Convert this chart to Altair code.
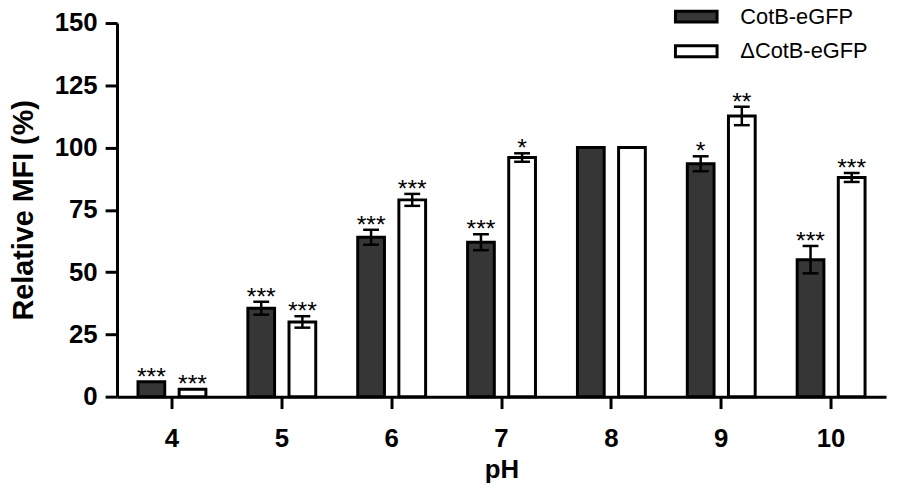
import altair as alt
import pandas as pd

ph = ["4", "5", "6", "7", "8", "9", "10"]
series_names = ["CotB-eGFP", "ΔCotB-eGFP"]
cotb_mean = [6, 35.5, 64, 62, 100, 93.5, 55]
cotb_err = [0, 2.6, 3.0, 3.2, 0, 3.0, 5.5]
cotb_sig = ["***", "***", "***", "***", "", "*", "***"]
dcotb_mean = [3, 30, 79, 96, 100, 112.7, 88]
dcotb_err = [0, 2.3, 2.4, 1.7, 0, 3.7, 1.8]
dcotb_sig = ["***", "***", "***", "*", "", "**", "***"]

rows = []
for i, p in enumerate(ph):
    rows.append(dict(pH=p, series=series_names[0], mean=cotb_mean[i],
                     lo=cotb_mean[i] - cotb_err[i], hi=cotb_mean[i] + cotb_err[i],
                     sig=cotb_sig[i], err=cotb_err[i]))
    rows.append(dict(pH=p, series=series_names[1], mean=dcotb_mean[i],
                     lo=dcotb_mean[i] - dcotb_err[i], hi=dcotb_mean[i] + dcotb_err[i],
                     sig=dcotb_sig[i], err=dcotb_err[i]))
df = pd.DataFrame(rows)

FONT = "Arial, Liberation Sans, sans-serif"

x_enc = alt.X("pH:N", sort=ph, title="pH",
              scale=alt.Scale(paddingInner=0, paddingOuter=0),
              axis=alt.Axis(labelAngle=0, labelFontSize=26, labelFontWeight="bold",
                            labelFont=FONT, titleFont=FONT, titleFontSize=26,
                            titleFontWeight="bold", tickSize=12, tickWidth=3,
                            tickColor="black", domainColor="black", domainWidth=3,
                            labelPadding=17, titlePadding=6, labelColor="black",
                            titleColor="black"))
xoff = alt.XOffset("series:N", sort=series_names,
                   scale=alt.Scale(paddingInner=0.35, paddingOuter=0.51))
y_scale = alt.Scale(domain=[0, 150], nice=False)

base = alt.Chart(df)

bars = base.mark_bar(stroke="black", strokeWidth=3, opacity=1).encode(
    x=x_enc,
    xOffset=xoff,
    y=alt.Y("mean:Q", scale=y_scale, title="Relative MFI (%)",
            axis=alt.Axis(values=[0, 25, 50, 75, 100, 125, 150], grid=False,
                          labelFontSize=26, labelFontWeight="bold", labelFont=FONT,
                          titleFont=FONT, titleFontSize=29, titleFontWeight="bold",
                          tickSize=12, tickWidth=3, tickColor="black",
                          domainColor="black", domainWidth=3, labelPadding=8,
                          titlePadding=16, labelColor="black", titleColor="black")),
    fill=alt.Fill("series:N", sort=series_names,
                  scale=alt.Scale(domain=series_names, range=["#363636", "#ffffff"]),
                  legend=alt.Legend(title=None, orient="none", legendX=562, legendY=-29,
                                    symbolType="M-1,-0.262H1V0.262H-1Z",
                                    symbolSize=1764, symbolStrokeColor="black",
                                    symbolStrokeWidth=3, symbolOpacity=1,
                                    labelFont=FONT, labelFontSize=22,
                                    labelColor="black", labelOffset=22,
                                    rowPadding=0, padding=0)),
)

err_df_filter = alt.datum.err > 0

rules = base.transform_filter(err_df_filter).mark_rule(color="black", strokeWidth=2.5).encode(
    x=alt.X("pH:N", sort=ph), xOffset=xoff,
    y=alt.Y("lo:Q", scale=y_scale), y2="hi:Q")

cap_hi = base.transform_filter(err_df_filter).mark_tick(color="black", thickness=2.5, size=16, opacity=1).encode(
    x=alt.X("pH:N", sort=ph), xOffset=xoff, y=alt.Y("hi:Q", scale=y_scale))
cap_lo = base.transform_filter(err_df_filter).mark_tick(color="black", thickness=2.5, size=16, opacity=1).encode(
    x=alt.X("pH:N", sort=ph), xOffset=xoff, y=alt.Y("lo:Q", scale=y_scale))

stars = base.mark_text(font=FONT, fontSize=25, color="black", baseline="alphabetic",
                       dy=3).encode(
    x=alt.X("pH:N", sort=ph), xOffset=xoff, y=alt.Y("hi:Q", scale=y_scale),
    text="sig:N")

chart = alt.layer(bars, rules, cap_hi, cap_lo, stars).properties(
    width=776, height=377,
    autosize=alt.AutoSizeParams(type="none"),
    padding={"left": 110, "top": 13, "right": 4, "bottom": 90},
).configure_view(stroke=None).configure_axis(grid=False)

chart.save("out.html", embed_options={"renderer": "svg", "actions": False})
